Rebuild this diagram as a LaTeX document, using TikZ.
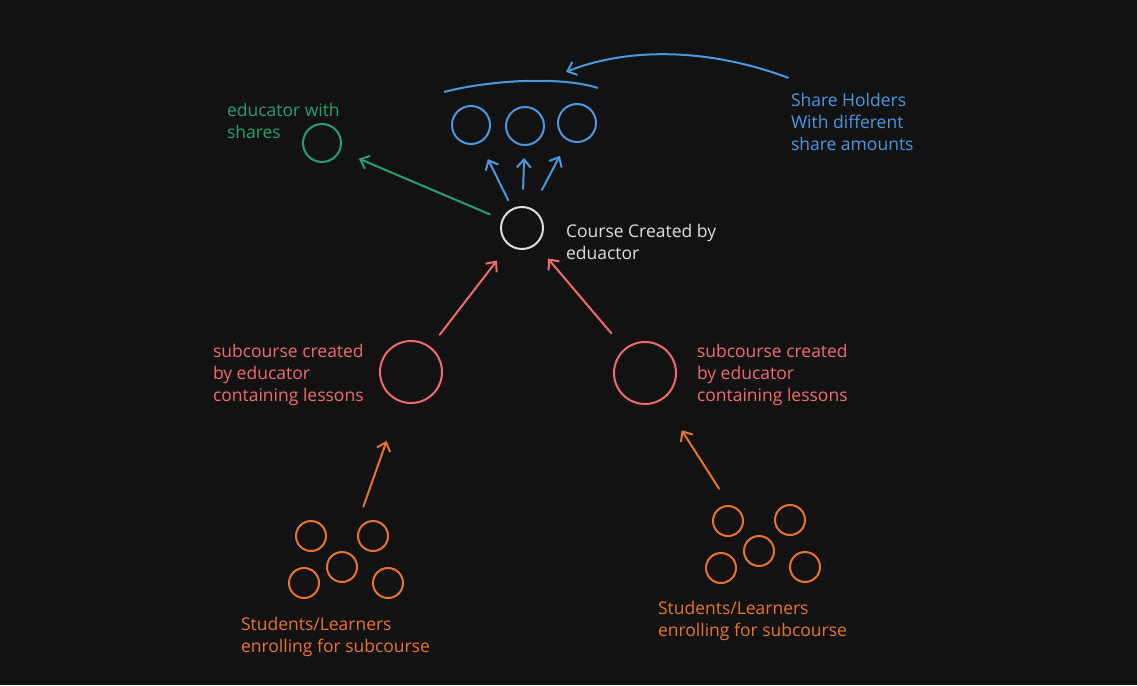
\documentclass[tikz,border=0pt]{standalone}
\usepackage{fontspec}
\setmainfont{Open Sans}
\usetikzlibrary{arrows.meta}
\definecolor{bg}{RGB}{18,18,18}
\definecolor{crs}{RGB}{222,222,222}
\definecolor{shr}{RGB}{74,152,224}
\definecolor{edu}{RGB}{38,160,110}
\definecolor{sub}{RGB}{240,108,108}
\definecolor{stu}{RGB}{232,116,44}

\begin{document}
\begin{tikzpicture}[x=1pt,y=-1pt,line width=2pt,
  dot/.style={circle,draw,minimum size=#1,inner sep=0pt},
  lbl/.style={anchor=base west,align=left,inner sep=0pt,font=\fontsize{17.5}{22}\selectfont},
  arr/.style={-{Straight Barb[length=8pt,width=14pt]},line cap=round}]
\fill[bg] (0,0) rectangle (1137,685);
\useasboundingbox (0,0) rectangle (1137,685);

\node[dot=42pt,draw=crs] (course) at (522,228) {};
\node[lbl,text=crs] (crslbl) at (565,259) {Course Created by\\eduactor};

\node[dot=38pt,draw=shr] (sh1) at (471,125) {};
\node[dot=38pt,draw=shr] (sh2) at (525,126) {};
\node[dot=38pt,draw=shr] (sh3) at (577,123) {};
\node[lbl,text=shr] (hold) at (790,150) {Share Holders\\With different\\share amounts};
\coordinate (brk) at (566,72);
\draw[shr] (444,92) .. controls (490,80) and (560,76) .. (598,88);
\draw[arr,shr] ([shift={(-2,-14)}]hold.north west) .. controls (700,45) and (620,50) .. (brk);
\draw[arr,shr,shorten <=9pt,shorten >=18pt] (course) -- (sh1);
\draw[arr,shr,shorten <=17pt,shorten >=12pt] (course) -- (sh2);
\draw[arr,shr,shorten <=21pt,shorten >=17pt] (course) -- (sh3);

\node[dot=38pt,draw=edu] (edu) at (322,143) {};
\node[lbl,text=edu] (edulbl) at (226,138) {educator with\\shares};
\draw[arr,edu,shorten <=13pt,shorten >=20pt] (course) -- (edu);

\node[dot=62pt,draw=sub] (subL) at (411,372) {};
\node[dot=62pt,draw=sub] (subR) at (645,373) {};
\node[lbl,text=sub] (subLlbl) at (212,401) {subcourse created\\by educator\\containing lessons};
\node[lbl,text=sub] (subRlbl) at (696,401) {subcourse created\\by educator\\containing lessons};
\draw[arr,sub,shorten <=15pt,shorten >=19pt] (subL) -- (course);
\draw[arr,sub,shorten <=20pt,shorten >=18pt] (subR) -- (course);

\foreach \n/\x/\y in {1/311/536,2/373/536,3/342/567,4/304/583,5/388/583}
  \node[dot=30pt,draw=stu] (stL\n) at (\x,\y) {};
\foreach \n/\x/\y in {1/728/521,2/790/520,3/759/551,4/721/568,5/805/567}
  \node[dot=30pt,draw=stu] (stR\n) at (\x,\y) {};
\node[lbl,text=stu] (stLlbl) at (240,652) {Students/Learners\\enrolling for subcourse};
\node[lbl,text=stu] (stRlbl) at (657,636) {Students/Learners\\enrolling for subcourse};
\draw[arr,stu,shorten <=48pt,shorten >=41pt] (stL3) -- (subL);
\draw[arr,stu,shorten <=58pt,shorten >=36pt] (stR3) -- (subR);
\end{tikzpicture}
\end{document}
